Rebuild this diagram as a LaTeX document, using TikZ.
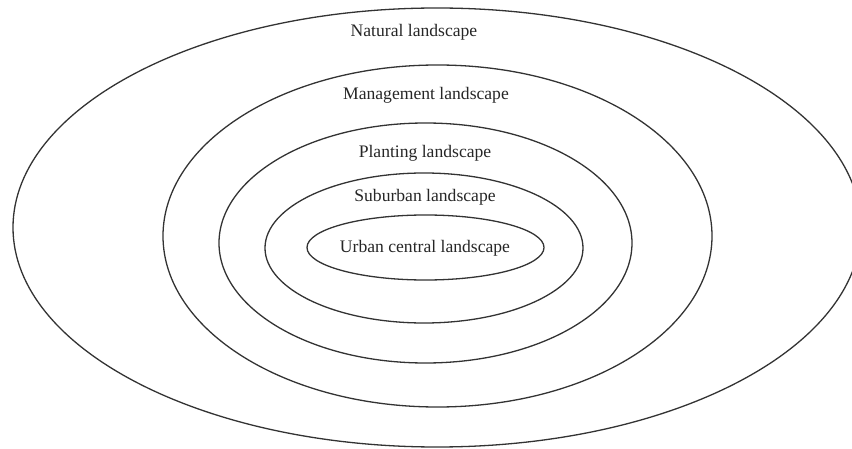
\documentclass[tikz,border=0pt]{standalone}
\usepackage{fontspec}
\setmainfont{Liberation Serif}
\begin{document}
\begin{tikzpicture}[x=1pt,y=-1pt,
  ring/.style={draw=black!80,line width=1.3pt},
  lbl/.style={font=\fontsize{17.6}{20}\selectfont,inner sep=0pt,text=black!85}]
\useasboundingbox (0,0) rectangle (852,449);
\clip (0,0) rectangle (852,449);
\draw[ring] (437,227.5) ellipse [x radius=424, y radius=219.5];
\draw[ring] (437.5,236) ellipse [x radius=274.5, y radius=171];
\draw[ring] (425.5,243) ellipse [x radius=206.5, y radius=120];
\draw[ring] (424,248) ellipse [x radius=159, y radius=75];
\draw[ring] (425.5,247.5) ellipse [x radius=118.5, y radius=32.5];
\node[lbl] (natural) at (414,32) {Natural landscape};
\node[lbl] (management) at (426,95) {Management landscape};
\node[lbl] (planting) at (425,153) {Planting landscape};
\node[lbl] (suburban) at (425,197) {Suburban landscape};
\node[lbl] (urban) at (425,248) {Urban central landscape};
\end{tikzpicture}
\end{document}
